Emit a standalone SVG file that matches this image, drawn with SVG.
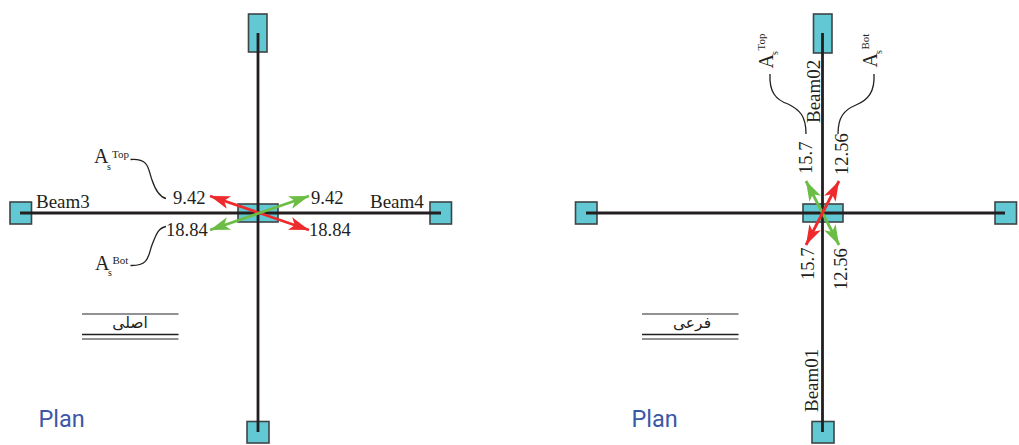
<svg xmlns="http://www.w3.org/2000/svg" width="1019" height="445" viewBox="0 0 1019 445">
<style>
.col{fill:#62c8d3;stroke:#3f4446;stroke-width:1.6}
.beam{fill:none;stroke:#231f20;stroke-width:2.8}
.red{stroke:#ee2a2c;stroke-width:2.8;fill:none;marker-start:url(#ar);marker-end:url(#ar)}
.grn{stroke:#6cbd45;stroke-width:2.8;fill:none;marker-start:url(#ag);marker-end:url(#ag)}
.cv{fill:none;stroke:#231f20;stroke-width:1.3}
.t{font-family:"Liberation Serif",serif;font-size:19px;fill:#231f20}
.n{font-family:"Liberation Serif",serif;font-size:18.6px;fill:#231f20}
.a{font-family:"Liberation Serif",serif;font-size:20px;fill:#231f20}
.s{font-family:"Liberation Serif",serif;font-size:10px;fill:#231f20}
.u{font-family:"Liberation Serif",serif;font-size:11px;fill:#231f20}
.p{font-family:Roboto,sans-serif;font-size:23.5px;fill:#3d57a7}
.f{font-family:"DejaVu Sans",sans-serif;font-size:15.500px;fill:#231f20;text-anchor:middle}
.g{stroke:#6d6e70;stroke-width:1.7;fill:none}
.k{stroke:#231f20;stroke-width:1.3;fill:none}
</style>
<defs>
<marker id="ar" markerUnits="userSpaceOnUse" viewBox="0 0 20 14" refX="20" refY="7" markerWidth="20" markerHeight="14" orient="auto-start-reverse"><path d="M20,7 L0,0.5 L5,7 L0,13.5 Z" fill="#ee2a2c"/></marker>
<marker id="ag" markerUnits="userSpaceOnUse" viewBox="0 0 20 14" refX="20" refY="7" markerWidth="20" markerHeight="14" orient="auto-start-reverse"><path d="M20,7 L0,0.5 L5,7 L0,13.5 Z" fill="#6cbd45"/></marker>
</defs>
<g id="plan-main-columns">
<rect class="col" x="248.500" y="14" width="18.500" height="38"/>
<rect class="col" x="247" y="421.500" width="22" height="21.500"/>
<rect class="col" x="10" y="202" width="21.500" height="22"/>
<rect class="col" x="430" y="202" width="21.500" height="22"/>
<rect class="col" x="238" y="204" width="40" height="18"/>
</g>
<g id="plan-sub-columns">
<rect class="col" x="813.500" y="14" width="18.500" height="39"/>
<rect class="col" x="812" y="421.500" width="22" height="21.500"/>
<rect class="col" x="575.500" y="202" width="21.500" height="22"/>
<rect class="col" x="995" y="202" width="21.500" height="22"/>
<rect class="col" x="803" y="204" width="40" height="18"/>
</g>
<g id="connectors">
<path class="beam" d="M258,33V432M20,213H441"/>
<path class="beam" d="M822.500,33V432M586,213H1005"/>
<line class="red" x1="210" y1="196" x2="309" y2="230"/>
<line class="grn" x1="210" y1="230" x2="309" y2="196"/>
<line class="grn" x1="806" y1="181" x2="839" y2="245"/>
<line class="red" x1="839" y1="181" x2="806" y2="245"/>
<path class="cv" d="M130.500,159.500C150,158 148,170 152,180C156,192 160,197 166,198.500"/>
<path class="cv" d="M130.500,265.500C150,266 148,255 152,245C156,235 158,228 166,226.500"/>
<path class="cv" d="M770,74C769,92 776,100 788,104C800,110 806,116 806,134"/>
<path class="cv" d="M874,74C875,92 868,100 856,105C844,110 838,117 838,134"/>
</g>
<g id="labels-main">
<text class="t" x="36" y="208">Beam3</text>
<text class="t" x="370" y="208">Beam4</text>
<text class="n" x="173" y="204">9.42</text>
<text class="n" x="311" y="204">9.42</text>
<text class="n" x="166" y="236">18.84</text>
<text class="n" x="309" y="236">18.84</text>
<text class="a" x="94" y="163">A</text><text class="s" x="107" y="170">s</text><text class="u" x="112" y="158">Top</text>
<text class="a" x="95" y="270">A</text><text class="s" x="108" y="276">s</text><text class="u" x="112.500" y="264">Bot</text>
<text class="p" x="38.500" y="427">Plan</text>
</g>
<g id="labels-sub">
<text class="t" transform="translate(820,123) rotate(-90)">Beam02</text>
<text class="t" transform="translate(818,412) rotate(-90)">Beam01</text>
<text class="n" transform="translate(811.500,174) rotate(-90)">15.7</text>
<text class="n" transform="translate(848,175) rotate(-90)">12.56</text>
<text class="n" transform="translate(814,280) rotate(-90)">15.7</text>
<text class="n" transform="translate(847,290) rotate(-90)">12.56</text>
<text class="a" transform="translate(773,68.500) rotate(-90)">A</text><text class="s" transform="translate(778,55) rotate(-90)">s</text><text class="u" transform="translate(765,50.500) rotate(-90)">Top</text>
<text class="a" transform="translate(877,67.500) rotate(-90)">A</text><text class="s" transform="translate(882,54) rotate(-90)">s</text><text class="u" transform="translate(869,49.500) rotate(-90)">Bot</text>
<text class="p" x="631.500" y="427">Plan</text>
</g>
<g id="title-main">
<path class="g" d="M82,314H178.500M82,339H178.500"/><path class="k" d="M82,334.500H178.500"/>
<text class="f" x="130" y="328">اصلی</text>
</g>
<g id="title-sub">
<path class="g" d="M642,314H738.500M642,339H738.500"/><path class="k" d="M642,334.500H738.500"/>
<text class="f" x="692" y="328">فرعی</text>
</g>
</svg>
